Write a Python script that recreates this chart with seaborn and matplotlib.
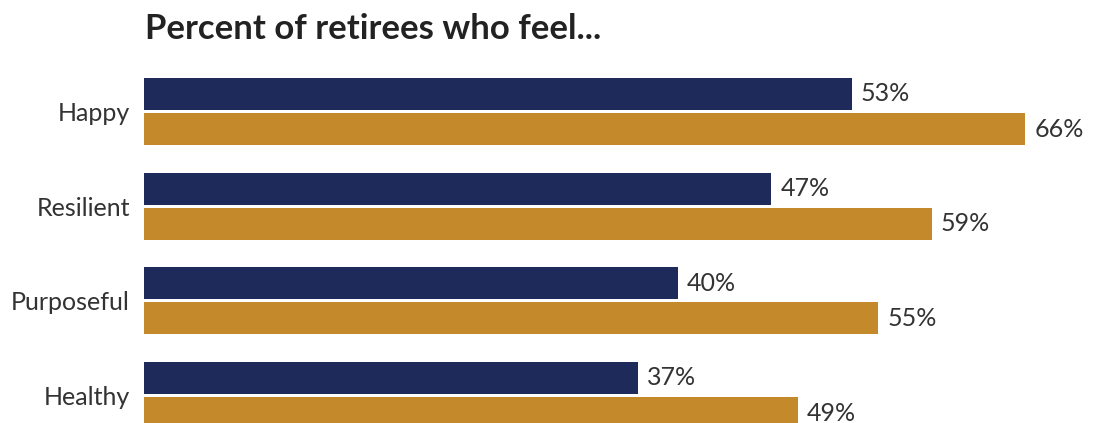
import matplotlib
matplotlib.use("Agg")
import matplotlib.pyplot as plt
import seaborn as sns
import pandas as pd

# Survey results: share of retirees reporting each feeling
categories = ["Happy", "Resilient", "Purposeful", "Healthy"]
series_names = ["Group A", "Group B"]
values_a = [53, 47, 40, 37]
values_b = [66, 59, 55, 49]

NAVY = "#1e2a5a"
GOLD = "#c4892b"
TEXT = "#333333"

df = pd.DataFrame({
    "feeling": categories * 2,
    "group": [series_names[0]] * len(categories) + [series_names[1]] * len(categories),
    "pct": values_a + values_b,
})

sns.set_theme(style="white")
plt.rcParams["font.family"] = ["Lato", "DejaVu Sans"]

W, H = 1101, 423
fig = plt.figure(figsize=(W / 100, H / 100), dpi=100)
ax_top_px = 70
left_px = 144
ax = fig.add_axes([left_px / W, 0, (W - left_px) / W, (H - ax_top_px) / H])

sns.barplot(
    data=df, x="pct", y="feeling", hue="group", order=categories,
    hue_order=series_names, palette=[NAVY, GOLD], orient="h",
    width=0.74, gap=0.085, dodge=True, legend=False, ax=ax,
    saturation=1, linewidth=0,
)

px_per_pct = 13.35
ax.set_xlim(0, (W - left_px) / px_per_pct)
pitch = 94.7
ax.set_ylim(3 + (H - 395.5) / pitch, -(111.5 - ax_top_px) / pitch)

for container in ax.containers:
    ax.bar_label(container, labels=[f"{int(v)}%" for v in container.datavalues],
                 padding=6.5, fontsize=18, color=TEXT, fontweight="normal",
                 clip_on=False)

ax.set_xlabel("")
ax.set_ylabel("")
ax.set_xticks([])
ax.tick_params(axis="y", length=0, pad=10, labelsize=18, labelcolor=TEXT)
for s in ax.spines.values():
    s.set_visible(False)

fig.text(145 / W, 1 - 39 / H, "Percent of retirees who feel...",
         fontsize=25, fontweight="bold", color="#222222", ha="left", va="baseline")

fig.savefig("out.png", dpi=100, facecolor="white")
